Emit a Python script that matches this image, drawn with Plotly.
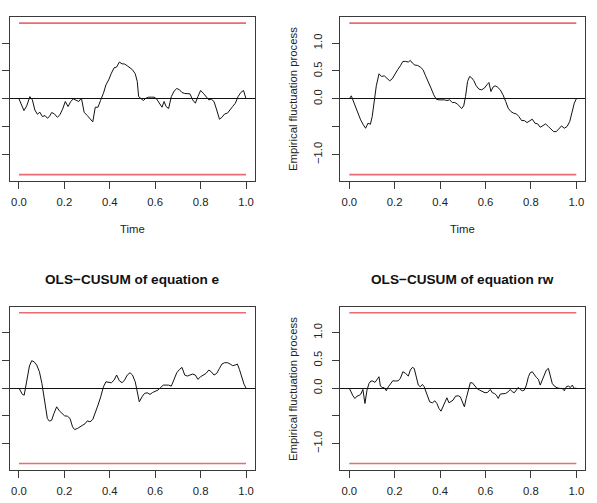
import plotly.graph_objects as go

# ---------------- data ----------------
t_tl = [0.0, 0.022, 0.034, 0.048, 0.059, 0.07, 0.081, 0.092, 0.103, 0.115, 0.125, 0.134, 0.144, 0.156, 0.169, 0.18,
        0.192, 0.204, 0.216, 0.228, 0.239, 0.251, 0.263, 0.275, 0.287, 0.301, 0.313, 0.325, 0.336, 0.348, 0.359,
        0.372, 0.383, 0.395, 0.407, 0.419, 0.43, 0.442, 0.454, 0.465, 0.477, 0.489, 0.5, 0.512, 0.521, 0.527, 0.536,
        0.548, 0.559, 0.571, 0.583, 0.595, 0.606, 0.618, 0.63, 0.639, 0.648, 0.659, 0.671, 0.683, 0.695, 0.707,
        0.718, 0.73, 0.742, 0.753, 0.765, 0.777, 0.788, 0.8, 0.812, 0.824, 0.836, 0.847, 0.859, 0.871, 0.883,
        0.894, 0.906, 0.918, 0.93, 0.941, 0.953, 0.965, 0.977, 0.989, 1.0]
v_tl = [0.0, -0.21, -0.126, 0.04, -0.02, -0.2, -0.275, -0.24, -0.317, -0.3, -0.347, -0.317, -0.245, -0.27, -0.33,
        -0.287, -0.186, -0.048, -0.138, -0.048, 0.0, -0.03, -0.048, 0.012, -0.24, -0.3, -0.365, -0.413, -0.15,
        -0.15, -0.03, 0.1, 0.25, 0.34, 0.46, 0.557, 0.569, 0.659, 0.629, 0.623, 0.593, 0.563, 0.52, 0.45, 0.31,
        0.04, 0.006, -0.03, 0.012, 0.03, 0.03, 0.03, 0.0, -0.078, -0.15, -0.048, -0.138, -0.174, 0.04, 0.138,
        0.186, 0.162, 0.114, 0.096, 0.09, 0.09, -0.018, -0.078, 0.04, 0.15, 0.1, 0.03, -0.018, -0.006, -0.048,
        -0.2, -0.365, -0.33, -0.27, -0.257, -0.186, -0.138, -0.078, 0.04, 0.114, 0.15, 0.0]

t_tr = [0.0, 0.009, 0.026, 0.038, 0.05, 0.062, 0.072, 0.082, 0.093, 0.101, 0.11, 0.119, 0.131, 0.142, 0.154, 0.166,
        0.178, 0.189, 0.201, 0.213, 0.225, 0.236, 0.248, 0.26, 0.269, 0.278, 0.289, 0.301, 0.313, 0.325, 0.336,
        0.348, 0.36, 0.372, 0.383, 0.395, 0.407, 0.419, 0.43, 0.442, 0.454, 0.465, 0.477, 0.486, 0.495, 0.504,
        0.512, 0.521, 0.53, 0.539, 0.548, 0.559, 0.571, 0.583, 0.595, 0.606, 0.615, 0.624, 0.633, 0.642, 0.653,
        0.665, 0.677, 0.689, 0.7, 0.712, 0.724, 0.736, 0.747, 0.759, 0.771, 0.783, 0.795, 0.806, 0.818, 0.83,
        0.841, 0.853, 0.865, 0.877, 0.888, 0.9, 0.912, 0.924, 0.935, 0.947, 0.959, 0.971, 0.982, 0.991, 1.0]
v_tr = [0.0, 0.054, -0.126, -0.27, -0.377, -0.467, -0.527, -0.437, -0.455, -0.317, -0.018, 0.234, 0.449, 0.401,
        0.413, 0.371, 0.323, 0.359, 0.449, 0.521, 0.593, 0.671, 0.671, 0.659, 0.689, 0.641, 0.605, 0.599, 0.569,
        0.521, 0.413, 0.311, 0.192, 0.072, -0.006, -0.018, -0.012, -0.018, -0.03, -0.018, -0.066, -0.066, -0.096,
        -0.138, -0.174, -0.126, 0.04, 0.311, 0.401, 0.377, 0.329, 0.234, 0.174, 0.162, 0.192, 0.251, 0.293, 0.132,
        0.21, 0.234, 0.21, 0.162, 0.072, -0.048, -0.168, -0.228, -0.257, -0.27, -0.317, -0.389, -0.389, -0.425,
        -0.389, -0.365, -0.437, -0.449, -0.509, -0.473, -0.449, -0.497, -0.545, -0.587, -0.587, -0.527, -0.485,
        -0.527, -0.497, -0.407, -0.228, -0.078, 0.0]

t_bl = [0.0, 0.007, 0.015, 0.023, 0.034, 0.046, 0.056, 0.066, 0.078, 0.09, 0.101, 0.113, 0.125, 0.134, 0.144, 0.154,
        0.166, 0.178, 0.189, 0.201, 0.213, 0.225, 0.236, 0.245, 0.257, 0.269, 0.28, 0.292, 0.301, 0.313, 0.325,
        0.336, 0.348, 0.36, 0.372, 0.383, 0.395, 0.407, 0.419, 0.43, 0.442, 0.454, 0.465, 0.477, 0.489, 0.5, 0.512,
        0.521, 0.53, 0.542, 0.553, 0.565, 0.577, 0.589, 0.601, 0.612, 0.624, 0.636, 0.648, 0.659, 0.671, 0.683,
        0.695, 0.707, 0.718, 0.73, 0.742, 0.753, 0.765, 0.777, 0.788, 0.8, 0.812, 0.824, 0.836, 0.847, 0.859,
        0.871, 0.883, 0.894, 0.906, 0.918, 0.93, 0.941, 0.953, 0.962, 0.971, 0.982, 0.991, 1.0]
v_bl = [0.0, -0.066, -0.114, -0.127, 0.114, 0.398, 0.494, 0.476, 0.416, 0.295, 0.084, -0.277, -0.548, -0.596,
        -0.578, -0.458, -0.337, -0.41, -0.458, -0.5, -0.506, -0.548, -0.699, -0.747, -0.729, -0.699, -0.675,
        -0.639, -0.59, -0.608, -0.566, -0.458, -0.307, -0.157, 0.024, 0.114, 0.102, 0.096, 0.145, 0.235, 0.133,
        0.096, 0.145, 0.235, 0.277, 0.235, 0.114, -0.084, -0.247, -0.157, -0.096, -0.084, -0.114, -0.078, -0.054,
        -0.036, 0.012, 0.054, 0.054, 0.054, 0.036, 0.175, 0.277, 0.337, 0.373, 0.235, 0.217, 0.235, 0.253, 0.235,
        0.157, 0.205, 0.235, 0.265, 0.325, 0.295, 0.235, 0.265, 0.355, 0.434, 0.458, 0.458, 0.434, 0.404, 0.416,
        0.434, 0.337, 0.175, 0.072, 0.0]

t_br = [0.0, 0.007, 0.016, 0.025, 0.034, 0.043, 0.051, 0.06, 0.069, 0.078, 0.087, 0.095, 0.104, 0.113, 0.122, 0.131,
        0.137, 0.145, 0.154, 0.163, 0.172, 0.181, 0.192, 0.204, 0.216, 0.225, 0.236, 0.248, 0.26, 0.269, 0.278,
        0.286, 0.295, 0.304, 0.313, 0.322, 0.33, 0.342, 0.354, 0.366, 0.377, 0.386, 0.395, 0.404, 0.413, 0.421,
        0.43, 0.439, 0.448, 0.457, 0.468, 0.48, 0.489, 0.498, 0.507, 0.515, 0.524, 0.533, 0.542, 0.551, 0.562,
        0.574, 0.586, 0.598, 0.609, 0.621, 0.63, 0.639, 0.648, 0.656, 0.665, 0.677, 0.689, 0.7, 0.709, 0.718,
        0.727, 0.736, 0.744, 0.753, 0.762, 0.771, 0.78, 0.789, 0.797, 0.806, 0.815, 0.824, 0.833, 0.841, 0.85,
        0.859, 0.868, 0.877, 0.885, 0.894, 0.903, 0.915, 0.927, 0.938, 0.947, 0.956, 0.965, 0.974, 0.982, 0.991, 1.0]
v_br = [0.0, -0.066, -0.139, -0.187, -0.145, -0.133, -0.108, -0.024, -0.277, -0.036, 0.084, 0.127, 0.127, 0.102,
        0.157, 0.205, 0.036, 0.012, 0.006, -0.048, 0.024, 0.084, 0.133, 0.127, 0.133, 0.175, 0.295, 0.265, 0.217,
        0.325, 0.373, 0.355, 0.193, 0.054, 0.024, 0.066, 0.024, -0.096, -0.247, -0.265, -0.229, -0.277, -0.367,
        -0.416, -0.337, -0.247, -0.175, -0.265, -0.247, -0.217, -0.145, -0.139, -0.157, -0.247, -0.337, -0.187,
        -0.036, 0.096, 0.096, 0.054, -0.006, -0.036, -0.054, -0.084, -0.078, -0.024, -0.084, -0.096, -0.127,
        -0.187, -0.108, -0.096, -0.096, -0.066, -0.024, -0.066, -0.084, -0.036, 0.012, -0.024, -0.048, -0.036,
        0.054, 0.205, 0.277, 0.295, 0.235, 0.193, 0.157, 0.054, 0.145, 0.253, 0.325, 0.355, 0.205, 0.084, 0.036,
        0.006, -0.006, -0.006, -0.048, 0.024, 0.036, 0.012, 0.054, -0.006, 0.0]

boundary = 1.358
x_tick_vals = [0.0, 0.2, 0.4, 0.6, 0.8, 1.0]
x_tick_text = ["0.0", "0.2", "0.4", "0.6", "0.8", "1.0"]
y_tick_vals = [-1.0, -0.5, 0.0, 0.5, 1.0]
y_tick_text = ["\u22121.0", "", "0.0", "0.5", "1.0"]
titles = ["OLS\u2212CUSUM of equation e", "OLS\u2212CUSUM of equation rw"]
ytitle = "Empirical fluctuation process"
xtitle = "Time"

# ---------------- figure ----------------
FONT = "Liberation Sans, Arial, sans-serif"
W, H = 597, 503
fig = go.Figure()

panels = [(t_tl, v_tl), (t_tr, v_tr), (t_bl, v_bl), (t_br, v_br)]
xdom = [[9.9 / W, 255.1 / W], [340.2 / W, 585.4 / W]]
ydom = [[1 - 180.7 / H, 1 - 17.0 / H], [1 - 469.5 / H, 1 - 306.7 / H]]

for i, (tt, vv) in enumerate(panels):
    ax = "" if i == 0 else str(i + 1)
    xa, ya = "x" + ax, "y" + ax
    for b in (boundary, -boundary):
        fig.add_trace(go.Scatter(x=[0.0, 1.0], y=[b, b], mode="lines",
                                 line=dict(color="#EE6A72", width=1.6),
                                 xaxis=xa, yaxis=ya, showlegend=False, hoverinfo="skip"))
    fig.add_trace(go.Scatter(x=tt, y=vv, mode="lines", line=dict(color="#111111", width=1.0),
                             xaxis=xa, yaxis=ya, showlegend=False))
    row, col = divmod(i, 2)
    common = dict(showgrid=False, showline=True, mirror=True, linecolor="#3a3a3a", linewidth=1,
                  ticks="outside", ticklen=7, tickcolor="#3a3a3a", tickwidth=1,
                  tickfont=dict(family=FONT, size=11.3, color="#222222"))
    fig.layout["xaxis" + ax] = dict(domain=xdom[col], range=[-0.04, 1.04], anchor=ya,
                                    tickvals=x_tick_vals, ticktext=x_tick_text, zeroline=False,
                                    ticklabelstandoff=4, **common)
    fig.layout["yaxis" + ax] = dict(domain=ydom[row], range=[-1.467, 1.467], anchor=xa,
                                    tickvals=y_tick_vals, ticktext=y_tick_text, tickangle=-90,
                                    showticklabels=(col == 1), zeroline=True, zerolinecolor="#111111",
                                    zerolinewidth=1, ticklabelstandoff=6, **common)

annotations = []
# y axis titles (right column; left column ones fall outside the picture)
for yc in (1 - 99.0 / H, 1 - 389.0 / H):
    annotations.append(dict(text=ytitle, x=293.0 / W, y=yc, xref="paper", yref="paper",
                            showarrow=False, textangle=-90, xanchor="center", yanchor="middle",
                            font=dict(family=FONT, size=11.3, color="#222222")))
# x axis titles (top row; bottom row ones fall outside)
for xc in ((9.9 + 255.1) / 2 / W, (340.2 + 585.4) / 2 / W):
    annotations.append(dict(text=xtitle, x=xc, y=1 - 229.0 / H, xref="paper", yref="paper",
                            showarrow=False, xanchor="center", yanchor="middle",
                            font=dict(family=FONT, size=11.3, color="#222222")))
# panel titles (bottom row; top row ones fall outside)
for xc, tt in zip(((9.9 + 255.1) / 2 / W, (340.2 + 585.4) / 2 / W), titles):
    annotations.append(dict(text="<b>" + tt + "</b>", x=xc, y=1 - 279.0 / H, xref="paper", yref="paper",
                            showarrow=False, xanchor="center", yanchor="middle",
                            font=dict(family=FONT, size=13.6, color="#111111")))

fig.update_layout(width=W, height=H, margin=dict(l=0, r=0, t=0, b=0),
                  paper_bgcolor="white", plot_bgcolor="white", template="none",
                  annotations=annotations, showlegend=False)

fig.write_html("out.html")
